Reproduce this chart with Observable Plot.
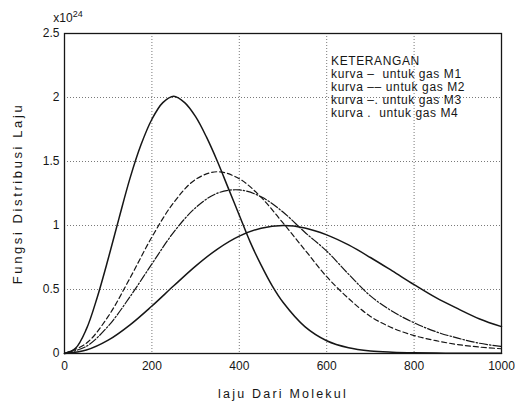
<!DOCTYPE html>
<html>
<head>
<meta charset="utf-8">
<script src="https://cdn.jsdelivr.net/npm/d3@7"></script>
<script src="https://cdn.jsdelivr.net/npm/@observablehq/plot@0.6"></script>
<style>
  html, body { margin: 0; padding: 0; background: #fff; }
  svg { overflow: visible; }
</style>
</head>
<body>
<div id="chart"></div>
<script>
// Speeds (laju) sampled for the curves
const speeds = [0, 50, 100, 150, 200, 250, 300, 350, 400, 450, 500, 550, 600, 650, 700, 750, 800, 850, 900, 950, 1000];
// M1 is narrow, so it is read at a finer step
const speedsM1 = [0, 25, 50, 75, 100, 125, 150, 175, 200, 225, 250, 275, 300, 325, 350, 375, 400, 425, 450, 475, 500, 550, 600, 650, 700, 750, 800, 850, 900, 950, 1000];
// Distribution values (x 10^24)
const m1 = [0, 0.04, 0.19, 0.44, 0.74, 1.06, 1.37, 1.63, 1.83, 1.96, 2.01, 1.96, 1.85, 1.69, 1.5, 1.29, 1.08, 0.87, 0.69, 0.53, 0.4, 0.21, 0.1, 0.045, 0.02, 0.01, 0.005, 0.003, 0.002, 0.002, 0.002];
const m2 = [0, 0.08, 0.29, 0.59, 0.91, 1.18, 1.36, 1.42, 1.365, 1.22, 1.02, 0.81, 0.6, 0.43, 0.29, 0.2, 0.14, 0.1, 0.07, 0.05, 0.037];
const m3 = [0, 0.056, 0.214, 0.444, 0.7, 0.948, 1.139, 1.253, 1.278, 1.224, 1.105, 0.947, 0.8, 0.62, 0.45, 0.33, 0.24, 0.17, 0.12, 0.08, 0.055];
const m4 = [0, 0.027, 0.104, 0.224, 0.371, 0.529, 0.683, 0.816, 0.917, 0.979, 1.0, 0.981, 0.927, 0.848, 0.75, 0.645, 0.538, 0.436, 0.35, 0.27, 0.21];

const xTicks = [0, 200, 400, 600, 800, 1000];
const yTicks = [0, 0.5, 1, 1.5, 2, 2.5];
const yTickLabels = ["0", "0.5", "1", "1.5", "2", "2.5"];
const legendLines = [
  "KETERANGAN",
  "kurva \u2013\u00a0 untuk gas M1",
  "kurva \u2013\u2013 untuk gas M2",
  "kurva \u2013. untuk gas M3",
  "kurva .\u00a0 untuk gas M4"
];
const xLabel = "laju Dari Molekul";
const yLabel = "Fungsi Distribusi Laju";

const ink = "#161616";

const plot = Plot.plot({
  width: 515,
  height: 404,
  marginLeft: 64,
  marginRight: 14,
  marginTop: 33,
  marginBottom: 51,
  style: { fontFamily: "Liberation Sans, Arial, sans-serif", fontSize: "12px", background: "#fff", color: ink, overflow: "visible" },
  x: { domain: [0, 1000] },
  y: { domain: [0, 2.5] },
  marks: [
    Plot.gridX(xTicks.slice(1, -1), { stroke: "#444", strokeOpacity: 0.9, strokeWidth: 0.8, strokeDasharray: "1,2" }),
    Plot.gridY(yTicks.slice(1, -1), { stroke: "#444", strokeOpacity: 0.9, strokeWidth: 0.8, strokeDasharray: "1,2" }),
    Plot.axisX(xTicks, { tickSize: 0, tickPadding: 8, label: null, fontSize: 12,
      tickFormat: (d) => String(d) }),
    Plot.axisY(yTicks, { tickSize: 0, tickPadding: 5, label: null, fontSize: 12,
      tickFormat: (d) => yTickLabels[yTicks.indexOf(d)] }),
    Plot.line(speedsM1, { x: speedsM1, y: m1, curve: "catmull-rom", stroke: ink, strokeWidth: 1.5 }),
    Plot.line(speeds, { x: speeds, y: m2, curve: "catmull-rom", stroke: ink, strokeWidth: 1.2, strokeDasharray: "5,3" }),
    Plot.line(speeds, { x: speeds, y: m3, curve: "catmull-rom", stroke: ink, strokeWidth: 1.2, strokeDasharray: "8,2,1.5,2" }),
    Plot.line(speeds, { x: speeds, y: m4, curve: "catmull-rom", stroke: ink, strokeWidth: 1.5 }),
    Plot.frame({ stroke: ink, strokeWidth: 1.3 }),
    Plot.text([legendLines.join("\n")], { x: 610, y: 2.33, textAnchor: "start", lineAnchor: "top",
      lineHeight: 1.1, fontSize: 12, fill: ink }),
    Plot.text([yLabel], { frameAnchor: "left", dx: -47, rotate: -90, textAnchor: "middle", lineAnchor: "middle",
      fontSize: 13, fill: ink }),
    Plot.text([xLabel], { frameAnchor: "bottom", dy: 40, textAnchor: "middle", lineAnchor: "middle",
      fontSize: 12.5, fill: ink })
  ]
});

const svg = d3.select(plot);

// exponent annotation "x10^24" above the top-left corner
const x0 = plot.scale("x").apply(0);
const yTop = plot.scale("y").apply(2.5);
const t = svg.append("text")
  .attr("x", x0 + 4)
  .attr("y", yTop - 11)
  .attr("font-size", 12)
  .attr("fill", ink)
  .attr("font-family", "Liberation Sans, Arial, sans-serif");
t.append("tspan").text("x10");
t.append("tspan").attr("dy", -5).attr("font-size", 9).text("24");

// wider letter spacing, as in the reference
svg.selectAll("text").filter(function () { return this.textContent === yLabel; })
  .attr("letter-spacing", 2.6);
svg.selectAll("text").filter(function () { return this.textContent === xLabel; })
  .attr("letter-spacing", 2.2);
svg.selectAll("tspan").filter(function () { return legendLines.includes(this.textContent); })
  .attr("letter-spacing", 0.6);

document.getElementById("chart").appendChild(plot);
</script>
</body>
</html>
